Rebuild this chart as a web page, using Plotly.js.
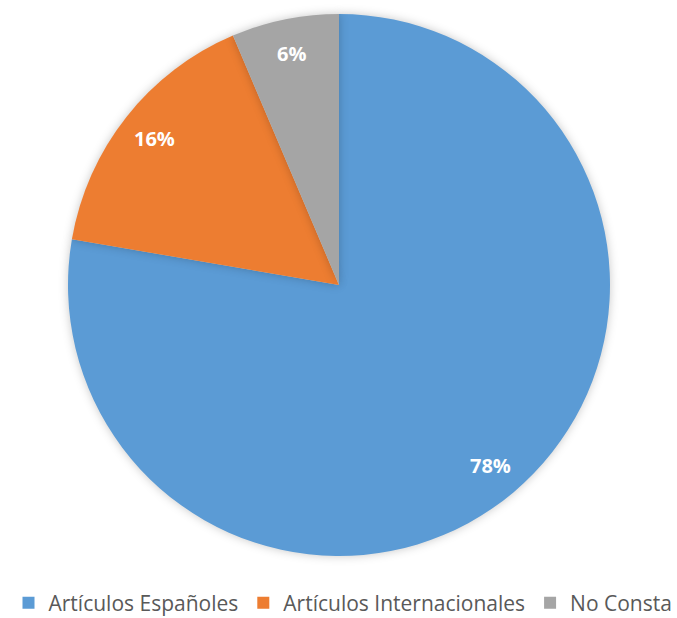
<!DOCTYPE html>
<html>
<head>
<meta charset="utf-8">
<script src="https://cdn.plot.ly/plotly-3.0.1.min.js"></script>
<style>
  html, body { margin: 0; padding: 0; background: #fff; }
  #chart { width: 677px; height: 618px; }
  .pielayer .slice path { filter: drop-shadow(0 0 5px rgba(0,0,0,0.22)); }
</style>
</head>
<body>
<div id="chart"></div>
<script>
const categories = ["Artículos Españoles", "Artículos Internacionales", "No Consta"];
const values = [77.7, 15.9, 6.4];
const colors = ["#5B9BD5", "#ED7D31", "#A5A5A5"];

const W = 677, H = 618;
const cx = 339, cy = 285, R = 271;     // pie centre and radius in px
const labelFrac = 0.87;                // label distance as a fraction of radius

const trace = {
  type: "pie",
  labels: categories,
  values: values,
  sort: false,
  direction: "clockwise",
  rotation: 0,
  marker: { colors: colors, line: { width: 0 } },
  textinfo: "none",
  hoverinfo: "none",
  domain: { x: [(cx - R) / W, (cx + R) / W], y: [(H - cy - R) / H, (H - cy + R) / H] }
};

// percentage labels placed at each slice's mid angle (clockwise from 12 o'clock)
const total = values.reduce((a, b) => a + b, 0);
let cum = 0;
const annotations = values.map((v) => {
  const mid = (cum + v / 2) / total * 2 * Math.PI;
  cum += v;
  const px = cx + Math.sin(mid) * R * labelFrac;
  const py = cy - Math.cos(mid) * R * labelFrac;
  return {
    x: px / W, y: 1 - py / H, xref: "paper", yref: "paper",
    text: Math.round(v / total * 100) + "%",
    showarrow: false, xanchor: "center", yanchor: "middle",
    font: { family: "Open Sans, sans-serif", size: 20, color: "#ffffff", weight: "bold" }
  };
});

const layout = {
  width: W,
  height: H,
  margin: { l: 0, r: 0, t: 0, b: 0, autoexpand: false },
  paper_bgcolor: "#ffffff",
  showlegend: true,
  annotations: annotations,
  legend: {
    orientation: "h",
    x: 343 / W, xanchor: "center",
    y: 1 - 603 / H, yanchor: "middle",
    itemwidth: 30,
    font: { family: "Open Sans, sans-serif", size: 21, color: "#595959" },
    itemclick: false
  }
};

Plotly.newPlot("chart", [trace], layout, { displayModeBar: false, staticPlot: true });
</script>
</body>
</html>
